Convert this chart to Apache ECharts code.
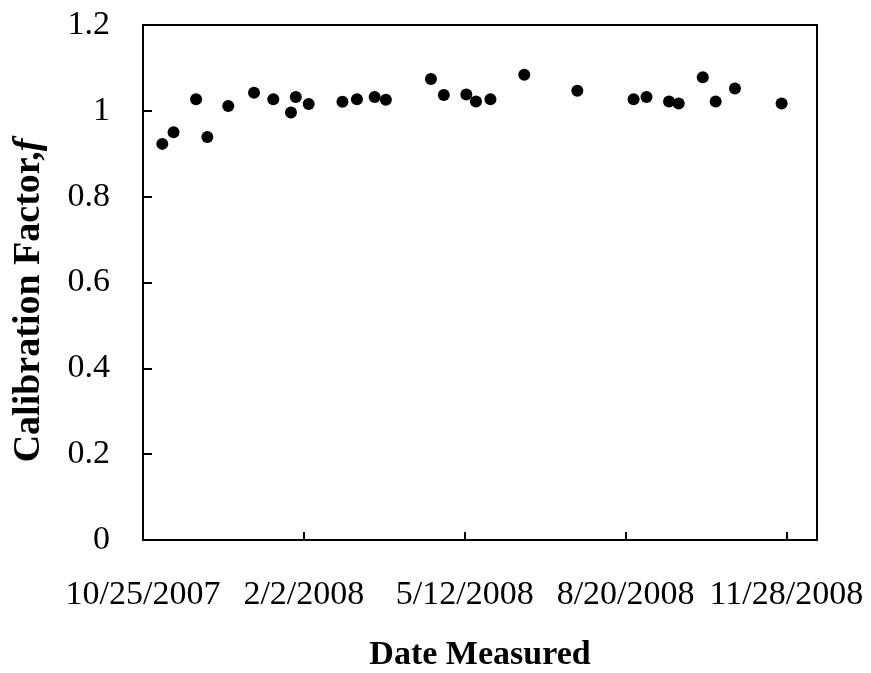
<!DOCTYPE html>
<html>
<head>
<meta charset="utf-8">
<script src="https://cdn.jsdelivr.net/npm/echarts@6/dist/echarts.min.js"></script>
<style>
html,body{margin:0;padding:0;background:#fff;}
#chart{width:871px;height:673px;}
</style>
</head>
<body>
<div id="chart"></div>
<script>
// dates measured (M/D/YYYY) and calibration factor f
var dates = ['11/6/2007','11/13/2007','11/27/2007','12/4/2007','12/17/2007',
    '1/2/2008','1/14/2008','1/25/2008','1/28/2008','2/5/2008','2/26/2008',
    '3/6/2008','3/17/2008','3/24/2008','4/21/2008','4/29/2008','5/13/2008',
    '5/19/2008','5/28/2008','6/18/2008','7/21/2008','8/25/2008','9/2/2008',
    '9/16/2008','9/22/2008','10/7/2008','10/15/2008','10/27/2008','11/25/2008'];
var factors = [0.923,0.950,1.027,0.939,1.011,1.042,1.027,0.996,1.032,1.016,1.021,
    1.027,1.032,1.026,1.074,1.037,1.038,1.022,1.027,1.084,1.047,1.027,1.032,
    1.022,1.017,1.078,1.022,1.052,1.017];
var axisStart = '10/25/2007';
var axisEnd = '12/17/2008';
var dayStep = 100;
var yTicks = [0, 0.2, 0.4, 0.6, 0.8, 1, 1.2];

var DAY = 86400000;
function toUTC(s){
    var p = s.split('/');
    return Date.UTC(+p[2], +p[0]-1, +p[1]);
}
var base = toUTC(axisStart);
function dayOf(s){ return Math.round((toUTC(s) - base) / DAY); }
function fmtDay(v){
    var d = new Date(base + v * DAY);
    return (d.getUTCMonth()+1) + '/' + d.getUTCDate() + '/' + d.getUTCFullYear();
}

var points = [];
for (var i = 0; i < dates.length; i++) {
    points.push([dayOf(dates[i]), factors[i]]);
}

var font = "'Liberation Serif','Times New Roman',serif";
var chart = echarts.init(document.getElementById('chart'));
chart.setOption({
    animation: false,
    backgroundColor: '#fff',
    grid: {
        left: 143, right: 54, top: 25, bottom: 133,
        show: true, borderColor: '#000', borderWidth: 2,
        containLabel: false, outerBoundsMode: 'none'
    },
    xAxis: {
        type: 'value',
        min: 0,
        max: dayOf(axisEnd),
        interval: dayStep,
        splitLine: {show: false},
        axisLine: {show: true, lineStyle: {color: '#000', width: 2}},
        axisTick: {show: true, inside: true, length: 8, lineStyle: {color: '#000', width: 2}},
        axisLabel: {
            color: '#000', fontFamily: font, fontSize: 34, margin: 38,
            showMaxLabel: false,
            formatter: function(v){ return v % dayStep === 0 ? fmtDay(v) : ''; }
        },
        name: 'Date Measured',
        nameLocation: 'middle',
        nameGap: 98,
        nameTextStyle: {color: '#000', fontFamily: font, fontSize: 34, fontWeight: 'bold'}
    },
    yAxis: {
        type: 'value',
        min: yTicks[0],
        max: yTicks[yTicks.length-1],
        interval: 0.2,
        splitLine: {show: false},
        axisLine: {show: true, lineStyle: {color: '#000', width: 2}},
        axisTick: {show: true, inside: true, length: 9, lineStyle: {color: '#000', width: 2}},
        axisLabel: {color: '#000', fontFamily: font, fontSize: 34, margin: 33},
        name: '{b|Calibration Factor,}{i|f}',
        nameLocation: 'middle',
        nameGap: 95,
        nameTextStyle: {
            padding: [0, 36, 0, 0],
            rich: {
                b: {color: '#000', fontFamily: font, fontSize: 38, fontWeight: 'bold'},
                i: {color: '#000', fontFamily: font, fontSize: 38, fontWeight: 'bold', fontStyle: 'italic'}
            }
        }
    },
    series: [{
        type: 'scatter',
        data: points,
        symbol: 'circle',
        symbolSize: 12,
        itemStyle: {color: '#000', opacity: 1}
    }]
});
</script>
</body>
</html>
